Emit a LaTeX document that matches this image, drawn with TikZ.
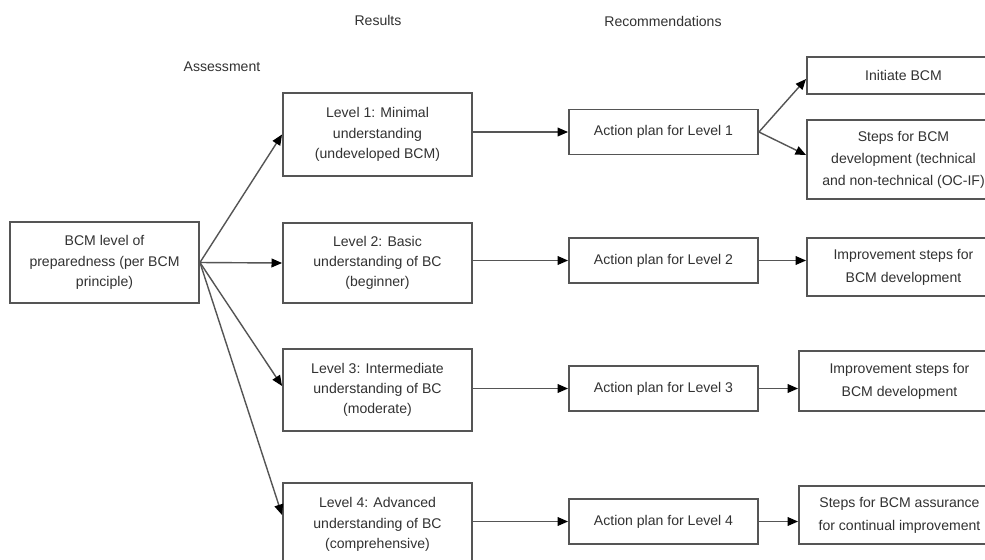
\documentclass[tikz,border=0pt]{standalone}
\usepackage{fontspec}
\setmainfont{Liberation Sans}
\usetikzlibrary{arrows.meta, positioning}

\definecolor{edge}{RGB}{85,85,85}
\definecolor{ink}{RGB}{50,50,50}

\begin{document}
\begin{tikzpicture}[
    x=0.02cm, y=-0.02cm,
    box/.style={draw=edge, line width=1.1pt, fill=white, align=center, inner sep=0pt,
      font=\fontsize{8}{11.5}\selectfont, text=ink},
    lvlbox/.style={box, minimum width=3.78cm},
    actbox/.style={box, minimum width=3.78cm, minimum height=0.9cm},
    recbox/.style={box, minimum width=3.86cm},
    head/.style={font=\fontsize{8}{10}\selectfont, text=ink},
    arr/.style={draw=edge, line width=0.8pt, -{Triangle[length=6pt, width=5pt, color=black]}}
  ]

  \useasboundingbox[fill=white] (0,0) rectangle (985,559);

  % column titles
  \node[head] (res) at (378,20) {Results};
  \node[head] (rec) at (663,21) {Recommendations};
  \node[head] (ass) at (222,67) {Assessment};

  % assessment
  \node[lvlbox, minimum height=1.62cm] (bcm) at (104.5,262.5) {BCM level of\\preparedness (per BCM\\principle)};

  % results
  \node[lvlbox, minimum height=1.66cm] (lvl1) at (377.5,134.5) {Level 1: Minimal\\understanding\\(undeveloped BCM)};
  \node[lvlbox, minimum height=1.60cm] (lvl2) at (377.5,263) {Level 2: Basic\\understanding of BC\\(beginner)};
  \node[lvlbox, minimum height=1.64cm] (lvl3) at (377.5,390) {Level 3: Intermediate\\understanding of BC\\(moderate)};
  \node[lvlbox, minimum height=1.66cm] (lvl4) at (377.5,524.5) {Level 4: Advanced\\understanding of BC\\(comprehensive)};

  % action plans
  \foreach \i/\y in {1/132, 2/260.5, 3/388.5, 4/521.5}
    \node[actbox] (act\i) at (663.5,\y) {Action plan for Level \i};

  % recommendations (their right sides run off the page)
  \node[recbox, minimum height=0.74cm] (init) at (903.5,75.5) {Initiate BCM};
  \node[recbox, minimum height=1.58cm, font=\fontsize{8}{12.5}\selectfont] (steps1) at (903.5,159.5) {Steps for BCM\\development (technical\\and non-technical (OC-IF)};
  \node[recbox, minimum height=1.16cm, font=\fontsize{8}{13}\selectfont] (imp2) at (903.5,267) {Improvement steps for\\BCM development};
  \node[recbox, minimum width=4.02cm, minimum height=1.20cm, font=\fontsize{8}{13}\selectfont] (imp3) at (899.5,381) {Improvement steps for\\BCM development};
  \node[recbox, minimum width=4.02cm, minimum height=1.16cm, font=\fontsize{8}{13}\selectfont] (steps4) at (899.5,515) {Steps for BCM assurance\\for continual improvement};

  % assessment -> results
  \draw[arr] (bcm.east) -- (lvl1.west);
  \draw[arr] (bcm.east) -- (lvl2.west);
  \draw[arr] (bcm.east) -- ([yshift=0.08cm]lvl3.west);
  \draw[arr] (bcm.east) -- ([yshift=0.19cm]lvl4.west);

  % results -> action plans
  \foreach \i in {1,...,4}
    \draw[arr] (lvl\i.east |- act\i) -- (act\i);

  % action plans -> recommendations
  \draw[arr] (act1.east) -- ([yshift=-0.07cm]init.west);
  \draw[arr] (act1.east) -- ([yshift=0.09cm]steps1.west);
  \draw[arr] (act2.east) -- (act2.east -| imp2.west);
  \draw[arr] (act3.east) -- (act3.east -| imp3.west);
  \draw[arr] (act4.east) -- (act4.east -| steps4.west);

\end{tikzpicture}
\end{document}
